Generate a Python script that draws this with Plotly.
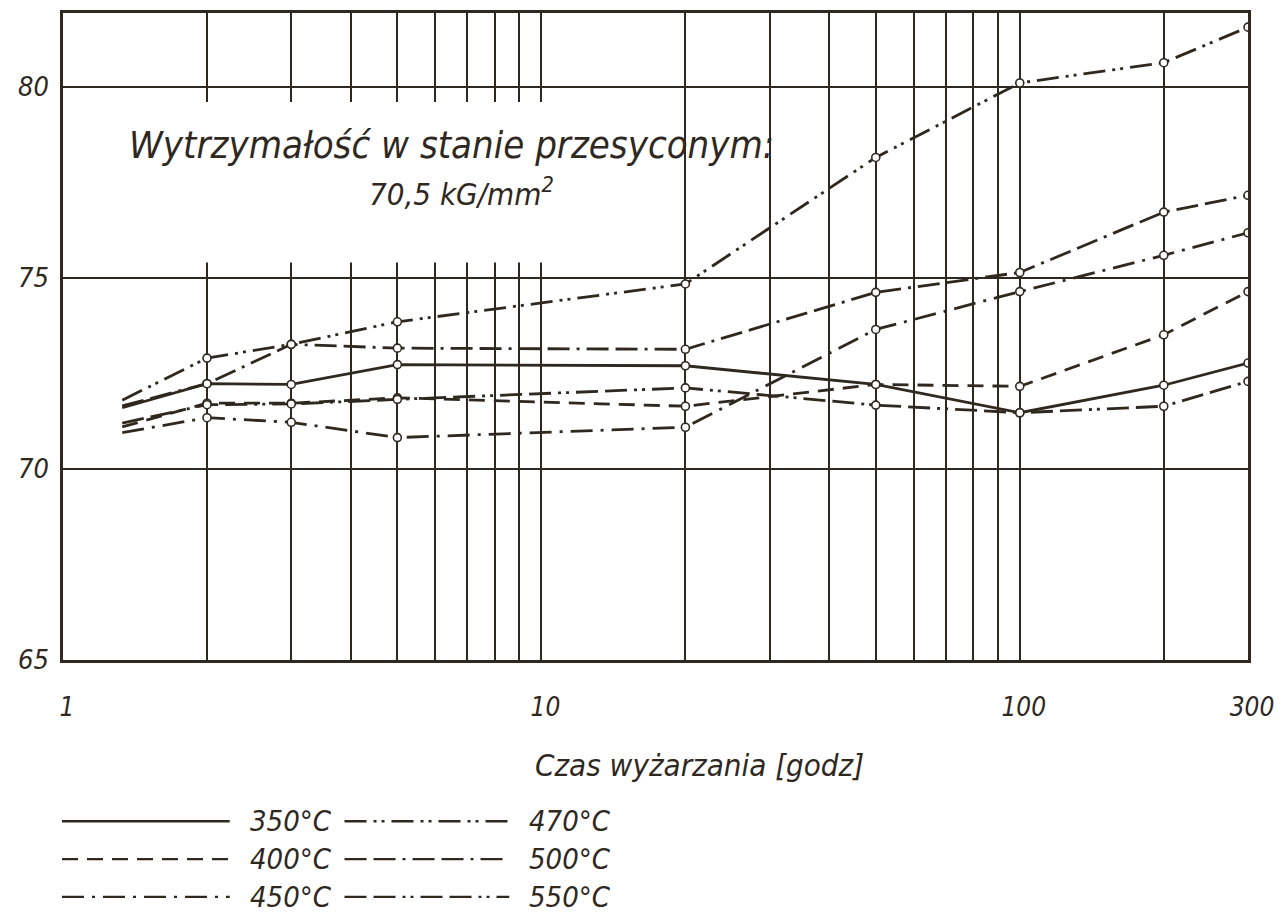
import plotly.graph_objects as go

# ---- data ----
times = [1.33, 2, 3, 5, 20, 50, 100, 200, 300]
temps = ["350°C", "400°C", "450°C", "470°C", "500°C", "550°C"]
s350 = [71.60, 72.23, 72.21, 72.73, 72.70, 72.21, 71.47, 72.19, 72.77]
s400 = [71.10, 71.72, 71.72, 71.86, 71.64, 72.21, 72.16, 73.51, 74.64]
s450 = [70.95, 71.34, 71.22, 70.82, 71.09, 73.65, 74.64, 75.59, 76.18]
s470 = [71.80, 72.90, 73.26, 73.85, 74.84, 78.15, 80.10, 80.63, 81.56]
s500 = [71.65, 72.23, 73.26, 73.16, 73.13, 74.62, 75.14, 76.72, 77.16]
s550 = [71.20, 71.68, 71.70, 71.82, 72.12, 71.67, 71.47, 71.64, 72.29]
series = [s350, s400, s450, s470, s500, s550]

x_tickvals = [1, 10, 100, 300]
x_ticktext = ["1", "10", "100", "300"]
x_minor = [2, 3, 4, 5, 6, 7, 8, 9, 20, 30, 40, 50, 60, 70, 80, 90, 200]
y_tickvals = [65, 70, 75, 80]
y_ticktext = ["65", "70", "75", "80"]

note_line1 = "Wytrzymałość w stanie przesyconym:"
note_line2 = "70,5 kG/mm<sup>2</sup>"
x_title = "Czas wyżarzania [godz]"

# ---- styles ----
INK = "#2f281f"
dashes = [
    "solid",
    "16px,9px",
    "22px,8px,3px,8px",
    "22px,7px,3px,5px,3px,7px",
    "22px,7px,22px,7px,3px,7px",
    "22px,7px,22px,7px,3px,5px,3px,7px",
]
FONT = dict(family="DejaVu Sans Condensed, DejaVu Sans", color=INK, style="italic")

fig = go.Figure()

for name, ys, dash in zip(temps, series, dashes):
    fig.add_trace(go.Scatter(
        x=times, y=ys, mode="lines", name=name, showlegend=False,
        line=dict(color=INK, width=2.8, dash=dash), hoverinfo="skip"))

for name, ys in zip(temps, series):
    fig.add_trace(go.Scatter(
        x=times[1:], y=ys[1:], mode="markers", name=name, showlegend=False,
        marker=dict(symbol="circle", size=8, color="white",
                    line=dict(color=INK, width=1.6))))

# white label box covering grid lines behind the note
fig.add_shape(type="rect", xref="x", yref="y", x0=1.02, x1=16, y0=75.4, y1=79.6,
              fillcolor="white", line=dict(width=0), layer="between")

# pixel helpers for paper-positioned texts
PW, PH, L, T = 1187.0, 650.0, 63.0, 10.0
def px_x(p):
    return (p - L) / PW
def px_y(p):
    return (T + PH - p) / PH

fig.add_annotation(xref="paper", yref="paper", x=px_x(452), y=px_y(143), text=note_line1,
                   showarrow=False, font=dict(size=38, **FONT), xanchor="center", yanchor="middle")
fig.add_annotation(xref="paper", yref="paper", x=px_x(462), y=px_y(190), text=note_line2,
                   showarrow=False, font=dict(size=31, **FONT), xanchor="center", yanchor="middle")
fig.add_annotation(xref="paper", yref="paper", x=px_x(701), y=px_y(765), text=x_title,
                   showarrow=False, font=dict(size=31, **FONT), xanchor="center", yanchor="middle")

# manual legend (two columns x three rows)
row_y = [822, 860, 898]
cols = [(62, 230, 248), (345, 510, 528)]
for i, (name, dash) in enumerate(zip(temps, dashes)):
    c = cols[i // 3]
    r = row_y[i % 3]
    fig.add_shape(type="line", xref="paper", yref="paper",
                  x0=px_x(c[0]), x1=px_x(c[1]), y0=px_y(r), y1=px_y(r),
                  line=dict(color=INK, width=2.4, dash=dash))
    fig.add_annotation(xref="paper", yref="paper", x=px_x(c[2]), y=px_y(r), text=name,
                       showarrow=False, xanchor="left", yanchor="middle",
                       font=dict(size=29, **FONT))

fig.update_layout(
    width=1284, height=924,
    margin=dict(l=63, r=34, t=10, b=264),
    paper_bgcolor="white", plot_bgcolor="white",
    showlegend=False,
    font=dict(size=24, **FONT),
)
fig.update_xaxes(
    type="log", range=[0, 2.4771],
    tickvals=x_tickvals, ticktext=x_ticktext, ticks="",
    tickfont=dict(size=26, **FONT), ticklabelstandoff=22, ticklabelshift=4,
    showgrid=True, gridcolor=INK, gridwidth=2,
    minor=dict(tickvals=x_minor, showgrid=True, gridcolor=INK, gridwidth=2, ticks=""),
    showline=True, linecolor=INK, linewidth=2.5, mirror=True, zeroline=False,
)
fig.update_yaxes(
    range=[65, 81.93], tickvals=y_tickvals, ticktext=y_ticktext, ticks="",
    tickfont=dict(size=27, **FONT), ticklabelstandoff=6,
    showgrid=True, gridcolor=INK, gridwidth=2,
    showline=True, linecolor=INK, linewidth=2.5, mirror=True, zeroline=False,
)

fig.write_html("out.html")
